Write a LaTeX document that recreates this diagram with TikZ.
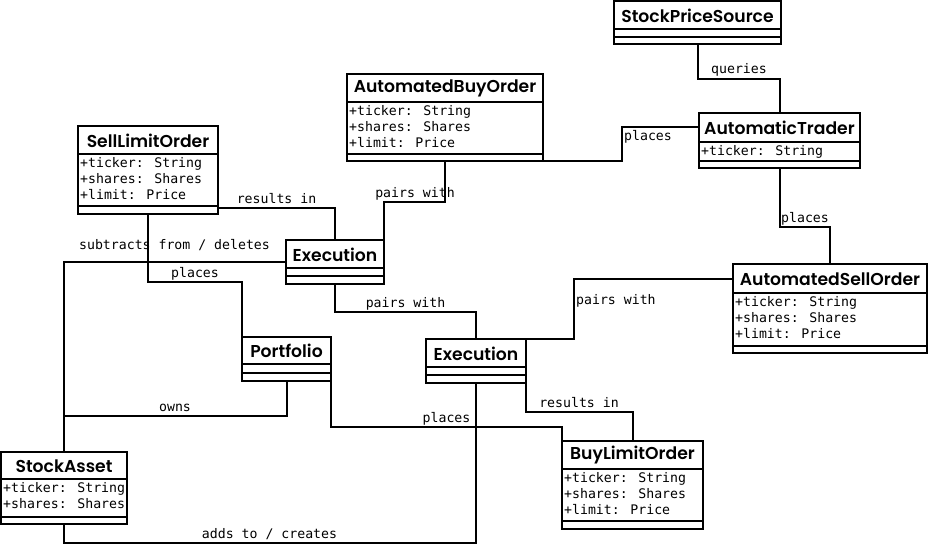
\documentclass[tikz,border=0pt]{standalone}
\usepackage{fontspec}
\usetikzlibrary{calc}
\newfontfamily\titlefont{Poppins}[UprightFont=* SemiBold, BoldFont=* SemiBold]
\newfontfamily\monofont{DejaVu Sans Mono}
\tikzset{
  umlbox/.style={draw, line width=2pt, inner sep=0pt, outer sep=0pt, anchor=north west},
  umlline/.style={line width=2pt},
  umltitle/.style={inner sep=0pt, font=\titlefont\fontsize{17.2}{19}\selectfont},
  umlattr/.style={inner sep=0pt, anchor=base west, font=\monofont\fontsize{13.2}{16}\selectfont},
  conn/.style={line width=2pt},
  lbl/.style={inner sep=0pt, anchor=base, font=\monofont\fontsize{13.2}{16}\selectfont},
  lblw/.style={inner sep=0pt, anchor=base west, font=\monofont\fontsize{13.2}{16}\selectfont},
}
\newcommand{\umlclass}[8]{%
  \node[umlbox, minimum width={#4-#2}, minimum height={#5-#3}] (#1) at (#2,#3) {};
  \draw[umlline] (#2,#6) -- (#4,#6);
  \draw[umlline] (#2,#7) -- (#4,#7);
  \node[umltitle] (#1-t) at ({(#2+#4)/2},{(#3+#6)/2+0.5}) {#8};
}
\begin{document}
\begin{tikzpicture}[x=1pt,y=-1pt]
\useasboundingbox (0,0) rectangle (928,556);
% classes
\umlclass{sps}{614}{1}{781}{44}{29}{37}{StockPriceSource}
\umlclass{abo}{347}{74}{543}{161}{102}{154}{AutomatedBuyOrder}
\node[umlattr] (abo-a1) at (349,115.5) {+ticker: String};
\node[umlattr] (abo-a2) at (349,131.5) {+shares: Shares};
\node[umlattr] (abo-a3) at (349,147.5) {+limit: Price};
\umlclass{at}{699}{113}{860}{168}{142}{161}{AutomaticTrader}
\node[umlattr] (at-a1) at (701,155.5) {+ticker: String};
\umlclass{aso}{733}{264}{927}{353}{293}{346}{AutomatedSellOrder}
\node[umlattr] (aso-a1) at (735,306.5) {+ticker: String};
\node[umlattr] (aso-a2) at (735,322.5) {+shares: Shares};
\node[umlattr] (aso-a3) at (735,338.5) {+limit: Price};
\umlclass{slo}{78}{126}{218}{214}{154}{206}{SellLimitOrder}
\node[umlattr] (slo-a1) at (80,167.5) {+ticker: String};
\node[umlattr] (slo-a2) at (80,183.5) {+shares: Shares};
\node[umlattr] (slo-a3) at (80,199.5) {+limit: Price};
\umlclass{ea}{286}{240}{384}{284}{268}{276}{Execution}
\umlclass{pf}{242}{337}{331}{381}{364}{373}{Portfolio}
\umlclass{eb}{426}{339}{526}{383}{367}{375}{Execution}
\umlclass{blo}{562}{441}{703}{529}{469}{521}{BuyLimitOrder}
\node[umlattr] (blo-a1) at (564,482.5) {+ticker: String};
\node[umlattr] (blo-a2) at (564,498.5) {+shares: Shares};
\node[umlattr] (blo-a3) at (564,514.5) {+limit: Price};
\umlclass{sa}{1}{452}{127}{524}{479}{517}{StockAsset}
\node[umlattr] (sa-a1) at (3,492.5) {+ticker: String};
\node[umlattr] (sa-a2) at (3,508.5) {+shares: Shares};
% connectors
\draw[conn] (sps.south) -- ++(0,35) -| (at.north);
\node[lbl] (l-queries) at (739,74) {queries};
\draw[conn] (abo.south east) -- ++(79,0) |- ($(at.north west)+(0,14)$);
\node[lblw] (l-places1) at (624,141) {places};
\draw[conn] (at.south) -- ++(0,59) -| (aso.north);
\node[lbl] (l-places2) at (805,222) {places};
\draw[conn] ($(aso.north west)+(0,15)$) -- ++(-159,0) |- (eb.north east);
\node[lblw] (l-pairs1) at (576,304) {pairs with};
\draw[conn] (ea.south) -- ++(0,28) -| (eb.north);
\node[lbl] (l-pairs2) at (405.5,307) {pairs with};
\draw[conn] (abo.south) -- ++(0,41) -| (ea.north east);
\node[lbl] (l-pairs3) at (415,197) {pairs with};
\draw[conn] ($(slo.south east)+(0,-6)$) -| (ea.north);
\node[lbl] (l-results1) at (276.5,203) {results in};
\draw[conn] (slo.south) -- ++(0,68) -| (pf.north west);
\node[lbl] (l-places3) at (195,277) {places};
\draw[conn] (ea.west) -| (sa.north);
\node[lbl] (l-subtracts) at (174.5,249) {subtracts from / deletes};
\draw[conn] (pf.south) -- ++(0,35) -| (sa.north);
\node[lbl] (l-owns) at (175,411) {owns};
\draw[conn] (pf.south east) -- ++(0,46) -| (blo.north west);
\node[lbl] (l-places4) at (446.5,422) {places};
\draw[conn] (eb.south east) -- ++(0,29) -| (blo.north);
\node[lbl] (l-results2) at (579,407) {results in};
\draw[conn] (eb.south) -- ++(0,160) -| (sa.south);
\node[lbl] (l-adds) at (269.5,538) {adds to / creates};
\end{tikzpicture}
\end{document}
